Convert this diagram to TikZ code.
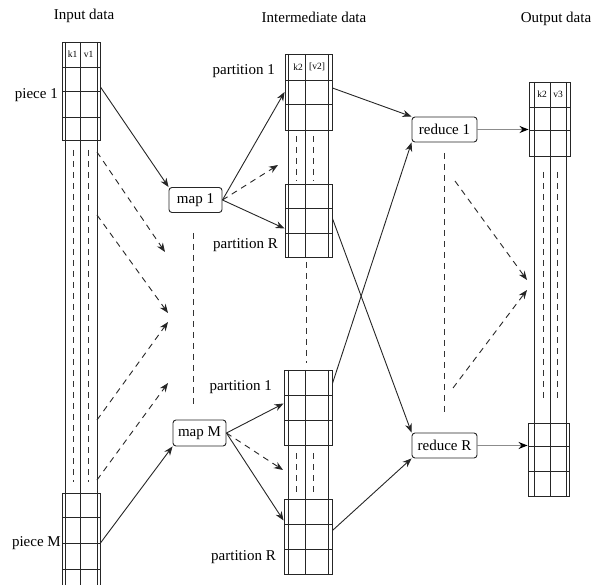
\documentclass[tikz,border=0pt]{standalone}
\usepackage{fontspec}
\setmainfont{Liberation Serif}
\usetikzlibrary{arrows.meta,calc}
\begin{document}
\begin{tikzpicture}[x=1pt,y=-1pt,
  ln/.style={line width=0.9pt, draw=black!85},
  cell/.style={draw=black!85, line width=0.9pt, inner sep=0pt, rectangle},
  proc/.style={draw=black!85, rounded corners=3pt, line width=0.9pt, inner sep=0pt, minimum height=25pt, font=\fontsize{15}{18}\selectfont},
  lbl/.style={font=\fontsize{15}{18}\selectfont, inner sep=0pt},
  hdr/.style={font=\fontsize{9.5}{11}\selectfont, inner sep=0pt},
  dsh/.style={line width=0.9pt, draw=black!80, dash pattern=on 6pt off 5pt},
  arr/.style={line width=0.9pt, draw=black!85, -{Stealth[length=9pt,width=7pt]}},
  darr/.style={arr, dash pattern=on 6pt off 5pt},
  garr/.style={line width=1.1pt, draw=black!45, -{Stealth[length=9pt,width=7pt,black]}},
]
\clip (0,0) rectangle (592,585);

% titles
\node[lbl] (tin) at (84,16) {Input data};
\node[lbl] (tmid) at (314,17) {Intermediate data};
\node[lbl] (tout) at (556,19) {Output data};

% ---------- input column ----------
\foreach \x in {65,80,97} \draw[ln] (\x,42) -- (\x,585);
\foreach \x in {73,88} \draw[dsh] (\x,150) -- (\x,482);
\node[cell, minimum width=38pt, minimum height=98pt] (piece1) at (81,91) {};
\node[cell, minimum width=38pt, minimum height=100pt] (pieceM) at (81,543) {};
\foreach \y in {67,91,117} \draw[ln] (62,\y) -- (100,\y);
\foreach \y in {517,543,569} \draw[ln] (62,\y) -- (100,\y);
\node[hdr] (k1) at (72.5,54.5) {k1};
\node[hdr] (v1) at (88.5,54.5) {v1};
\node[lbl, anchor=east] (lp1) at (58,95) {piece 1};
\node[lbl, anchor=east] (lpM) at (61,543) {piece M};

% ---------- intermediate columns ----------
\foreach \x in {288.5,305,328.5} \draw[ln] (\x,54) -- (\x,257);
\foreach \x in {288,305,328} \draw[ln] (\x,370) -- (\x,574);
\foreach \x in {296,313} {
  \draw[dsh] (\x,136) -- (\x,181);
  \draw[dsh] (\x,453) -- (\x,496);
}
\node[cell, minimum width=47pt, minimum height=76pt] (ip1) at (308.5,92) {};
\node[cell, minimum width=47pt, minimum height=73pt] (ipR) at (308.5,220.5) {};
\node[cell, minimum width=48pt, minimum height=75pt] (jp1) at (308,407.5) {};
\node[cell, minimum width=48pt, minimum height=75pt] (jpR) at (308,536.5) {};
\foreach \y in {80,104} \draw[ln] (285,\y) -- (332,\y);
\foreach \y in {208,233} \draw[ln] (285,\y) -- (332,\y);
\foreach \y in {395,420} \draw[ln] (284,\y) -- (332,\y);
\foreach \y in {524,549} \draw[ln] (284,\y) -- (332,\y);
\node[hdr] (k2a) at (298,67) {k2};
\node[hdr] (v2a) at (317,67) {[v2]};
\node[lbl, anchor=east] (lq1) at (275,71) {partition 1};
\node[lbl, anchor=east] (lqR) at (278,245) {partition R};
\node[lbl, anchor=east] (lr1) at (272,387) {partition 1};
\node[lbl, anchor=east] (lrR) at (276,557) {partition R};
\coordinate (mids) at (306,262);
\coordinate (mide) at (306,363);
\draw[dsh] (mids) -- (mide);

% ---------- output column ----------
\foreach \x in {534,550,566} \draw[ln] (\x,82) -- (\x,496);
\foreach \x in {543,557} \draw[dsh] (\x,172) -- (\x,398);
\node[cell, minimum width=41pt, minimum height=74pt] (o1) at (549.5,119) {};
\node[cell, minimum width=41pt, minimum height=73pt] (oR) at (548.5,459.5) {};
\foreach \y in {107,130} \draw[ln] (529,\y) -- (570,\y);
\foreach \y in {446,471} \draw[ln] (528,\y) -- (569,\y);
\node[hdr] (k2b) at (542,94.5) {k2};
\node[hdr] (v3) at (558,94.5) {v3};

% ---------- map / reduce ----------
\node[proc, minimum width=53pt] (map1) at (195.5,200) {map 1};
\node[proc, minimum width=53pt, minimum height=26pt] (mapM) at (199.5,433) {map M};
\node[proc, minimum width=65pt] (red1) at (444.5,129.5) {reduce 1};
\node[proc, minimum width=65pt] (redR) at (444.5,445.5) {reduce R};

\coordinate (mvs) at (193,233);
\coordinate (mve) at (193,408);
\draw[dsh] (mvs) -- (mve);
\coordinate (rvs) at (444,153);
\coordinate (rve) at (444,413);
\draw[dsh] (rvs) -- (rve);

% ---------- connectors ----------
\draw[arr] ($(piece1.east)+(0,-4)$) -- (map1.north west);
\draw[arr] (pieceM.east) -- (mapM.south west);

\coordinate (a1s) at (97,152);  \coordinate (a1e) at (165,252);
\coordinate (a2s) at (97,215);  \coordinate (a2e) at (168,313);
\coordinate (a3s) at (97,420);  \coordinate (a3e) at (168,322);
\coordinate (a4s) at (97,480);  \coordinate (a4e) at (168,383);
\draw[darr] (a1s) -- (a1e);
\draw[darr] (a2s) -- (a2e);
\draw[darr] (a3s) -- (a3e);
\draw[darr] (a4s) -- (a4e);

\coordinate (m1d) at (278,165);
\coordinate (mMd) at (283,470);
\draw[arr] (map1.east) -- (ip1.west);
\draw[darr] (map1.east) -- (m1d);
\draw[arr] (map1.east) -- ($(ipR.west)+(0,8)$);
\draw[arr] (mapM.east) -- ($(jp1.west)+(0,-4)$);
\draw[darr] (mapM.east) -- (mMd);
\draw[arr] (mapM.east) -- ($(jpR.west)+(0,-16)$);

\draw[arr] ($(ip1.east)+(0,-4)$) -- (red1.north west);
\draw[arr] ($(jp1.east)+(0,-24)$) -- (red1.south west);
\draw[arr] ($(ipR.east)+(0,-2)$) -- (redR.north west);
\draw[arr] ($(jpR.east)+(0,-6)$) -- (redR.south west);

\draw[garr] (red1.east) -- ($(o1.west)+(0,10.5)$);
\draw[garr] (redR.east) -- ($(oR.west)+(0,-14)$);

\coordinate (b1s) at (455,181); \coordinate (b1e) at (527,280);
\coordinate (b2s) at (453,388); \coordinate (b2e) at (527,290);
\draw[darr] (b1s) -- (b1e);
\draw[darr] (b2s) -- (b2e);
\end{tikzpicture}
\end{document}
